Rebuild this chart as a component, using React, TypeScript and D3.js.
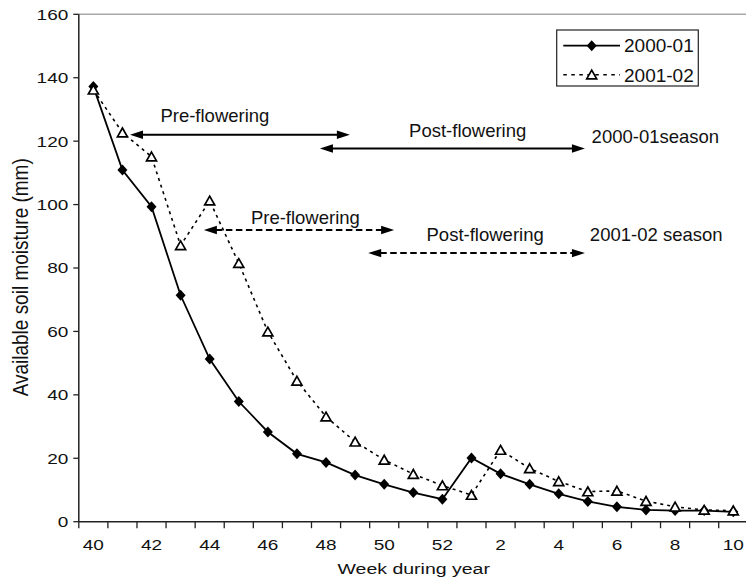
import React from 'react';
import * as d3 from 'd3';

// week of year, Oct -> Mar
const weeks = ['40', '41', '42', '43', '44', '45', '46', '47', '48', '49', '50', '51', '52',
  '1', '2', '3', '4', '5', '6', '7', '8', '9', '10'];
const season2000 = [137.2, 110.9, 99.3, 71.4, 51.3, 37.9, 28.3, 21.4, 18.7, 14.7, 11.8, 9.2, 7.1,
  20.1, 15.1, 11.8, 8.8, 6.4, 4.7, 3.7, 3.5, 3.5, 3.1];
const season2001 = [136.2, 122.7, 115.1, 87.1, 101.2, 81.5, 59.9, 44.4, 33.1, 25.2, 19.5, 15.0, 11.4,
  8.4, 22.6, 16.8, 12.7, 9.5, 9.7, 6.5, 4.7, 3.7, 3.5];
const yTicks = [0, 20, 40, 60, 80, 100, 120, 140, 160];
const xLabelWeeks = ['40', '42', '44', '46', '48', '50', '52', '2', '4', '6', '8', '10'];

// growth stage arrows, x in week-slot units from the axis start, y in mm
const stageArrows = [
  { from: 1.76, to: 9.32, y: 122.0, dashed: false },
  { from: 8.29, to: 17.4, y: 117.7, dashed: false },
  { from: 4.30, to: 10.84, y: 92.0, dashed: true },
  { from: 9.95, to: 17.4, y: 84.7, dashed: true },
];
const stageLabels = [
  { text: 'Pre-flowering', u: 4.68, y: 126.0, anchor: 'middle' },
  { text: 'Post-flowering', u: 13.37, y: 121.4, anchor: 'middle' },
  { text: '2000-01season', u: 17.63, y: 119.4, anchor: 'start' },
  { text: 'Pre-flowering', u: 7.79, y: 93.9, anchor: 'middle' },
  { text: 'Post-flowering', u: 13.97, y: 88.6, anchor: 'middle' },
  { text: '2001-02 season', u: 17.57, y: 88.6, anchor: 'start' },
];

const FONT = '"Liberation Sans", Arial, sans-serif';
const left = 78.8, right = 747.8, top = 14.3, bottom = 521.7;

const diamond = 'M0,-5.5L5,0L0,5.5L-5,0Z';
const triangle = 'M0,-4.6L5,4.2L-5,4.2Z';

function Arrow({ x1, x2, y, dashed }) {
  const head = 13;
  const hw = 4.2;
  return (
    <g>
      <line x1={x1 + head - 1} x2={x2 - head + 1} y1={y} y2={y} stroke="#000" strokeWidth={2}
        strokeDasharray={dashed ? '6.5,3.5' : null} />
      <path d={`M${x1},${y}L${x1 + head},${y - hw}L${x1 + head},${y + hw}Z`} fill="#000" />
      <path d={`M${x2},${y}L${x2 - head},${y - hw}L${x2 - head},${y + hw}Z`} fill="#000" />
    </g>
  );
}

export default function App() {
  const x = d3.scaleBand().domain(weeks).range([left, right]).padding(0);
  const xu = d3.scaleLinear().domain([0, weeks.length]).range([left, right]);
  const y = d3.scaleLinear().domain([0, 160]).range([bottom, top]);
  const cx = (w) => x(w) + x.bandwidth() / 2;

  const line = d3.line().x((d, i) => cx(weeks[i])).y(d => y(d));

  const tickXs = weeks.map(w => x(w)).concat([right]);

  return (
    <svg width={746} height={582} style={{ position: 'absolute', left: 0, top: 0, background: '#fff' }}
      fontFamily={FONT}>
      <rect width={746} height={582} fill="#fff" />
      {/* plot frame */}
      <line x1={left} x2={right} y1={top} y2={top} stroke="#a8a8a8" strokeWidth={1.5} />
      <line x1={left} x2={left} y1={top} y2={bottom} stroke="#222" strokeWidth={1.5} />
      <line x1={left} x2={right} y1={bottom} y2={bottom} stroke="#222" strokeWidth={1.5} />

      {yTicks.map(t => (
        <g key={'y' + t}>
          <line x1={left - 5.5} x2={left} y1={y(t)} y2={y(t)} stroke="#222" strokeWidth={1.3} />
          <text transform={`translate(${left - 10.5},${y(t) + 5.35}) scale(1,0.79)`} textAnchor="end"
            fontSize={19} fill="#111">{t}</text>
        </g>
      ))}
      {tickXs.map((tx, i) => (
        <line key={'xt' + i} x1={tx} x2={tx} y1={bottom} y2={bottom + 6.5} stroke="#222" strokeWidth={1.3} />
      ))}
      {xLabelWeeks.map(w => (
        <text key={'xl' + w} transform={`translate(${cx(w)},549.8) scale(1,0.79)`} textAnchor="middle"
          fontSize={19} fill="#111">{w}</text>
      ))}
      <text transform="translate(413.7,574) scale(1,0.77)" textAnchor="middle" fontSize={19.5} fill="#111">
        Week during year
      </text>
      <text transform="translate(28.3,277.3) rotate(-90) scale(1,1.12)" textAnchor="middle" fontSize={19}
        fill="#111">Available soil moisture (mm)</text>

      {/* series */}
      <path d={line(season2000)} fill="none" stroke="#000" strokeWidth={1.8} />
      {season2000.map((v, i) => (
        <path key={'a' + i} d={diamond} transform={`translate(${cx(weeks[i])},${y(v)})`} fill="#000" />
      ))}
      <path d={line(season2001)} fill="none" stroke="#000" strokeWidth={1.6} strokeDasharray="3,4" />
      {season2001.map((v, i) => (
        <path key={'b' + i} d={triangle} transform={`translate(${cx(weeks[i])},${y(v)})`} fill="#fff"
          stroke="#000" strokeWidth={1.7} strokeLinejoin="miter" />
      ))}

      {/* growth stage annotations */}
      {stageArrows.map((a, i) => (
        <Arrow key={'ar' + i} x1={xu(a.from)} x2={xu(a.to)} y={y(a.y)} dashed={a.dashed} />
      ))}
      {stageLabels.map((l, i) => (
        <text key={'sl' + i} x={xu(l.u)} y={y(l.y)} textAnchor={l.anchor} fontSize={18.5} fill="#111">
          {l.text}
        </text>
      ))}

      {/* legend */}
      <g>
        <rect x={556.7} y={30} width={141.6} height={56} fill="#fff" stroke="#222" strokeWidth={1.2} />
        <line x1={563.3} x2={620} y1={45.7} y2={45.7} stroke="#000" strokeWidth={1.8} />
        <path d={diamond} transform="translate(591.7,45.7)" fill="#000" />
        <text x={624} y={51.7} fontSize={19} fill="#111">2000-01</text>
        <line x1={563.3} x2={620} y1={74.7} y2={74.7} stroke="#000" strokeWidth={1.6} strokeDasharray="3.5,4.5" />
        <path d={triangle} transform="translate(591.7,74.7)" fill="#fff" stroke="#000" strokeWidth={1.7} />
        <text x={624} y={81.7} fontSize={19} fill="#111">2001-02</text>
      </g>
    </svg>
  );
}
